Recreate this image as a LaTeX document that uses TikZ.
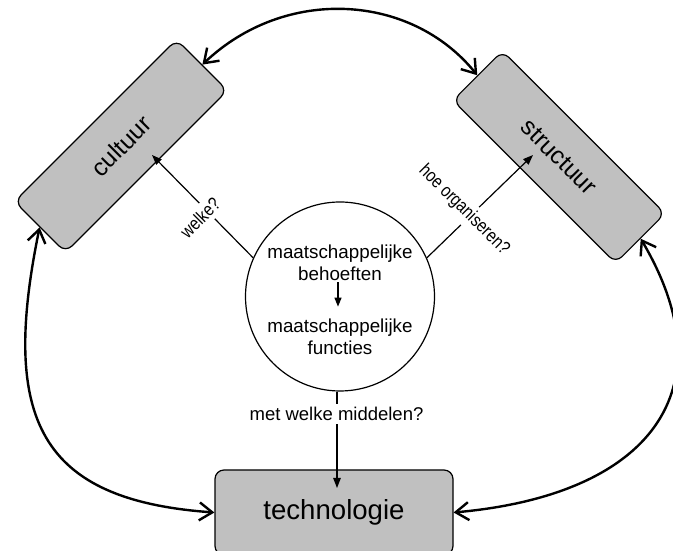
\documentclass[tikz,border=0pt]{standalone}
\usepackage{fontspec}
\setmainfont{Liberation Sans}
\newfontfamily\condfont[FakeStretch=0.83]{Liberation Sans}
\usetikzlibrary{arrows.meta,calc}
\definecolor{boxgray}{RGB}{192,192,192}
\begin{document}
\begin{tikzpicture}[x=1pt,y=1pt,
  box/.style={draw=black, line width=1.2pt, fill=boxgray, rounded corners=9pt, inner sep=0pt},
  bigarrow/.style={line width=2.4pt, {Straight Barb[length=13pt,width=18pt]}-{Straight Barb[length=13pt,width=18pt]}},
  thinarrow/.style={line width=1.2pt, -{Triangle[length=10pt,width=7.5pt]}},
  smallarrow/.style={line width=1.2pt, -{Triangle[length=9pt,width=7pt]}},
  lbl/.style={fill=white, inner sep=4pt, font=\fontsize{18.5}{22}\selectfont},
  condlbl/.style={fill=white, inner sep=4pt, font=\condfont\fontsize{18.5}{22}\selectfont},
  ctext/.style={align=center, inner sep=0pt, font=\fontsize{18.8}{22.5}\selectfont},
  bigtext/.style={font=\fontsize{24.6}{28}\selectfont}
]
\useasboundingbox (0,0) rectangle (673,551);
\clip (0,0) rectangle (673,551);

% central circle
\node[circle, draw, line width=1.2pt, minimum size=189pt, inner sep=0pt] (circ) at (340,254.5) {};
\node[ctext] (t1) at (340,288) {maatschappelijke\\behoeften};
\node[ctext] (t2) at (340,214) {maatschappelijke\\functies};
\draw[smallarrow] ([xshift=-2pt,yshift=-1pt]t1.south) -- ([xshift=-2pt,yshift=12pt]t2.north);

% boxes
\node[box, bigtext, rotate=45, minimum width=229pt, minimum height=72pt] (cultuur) at (121,405) {cultuur};
\node[box, bigtext, rotate=-45, minimum width=230pt, minimum height=70pt] (structuur) at (559,394) {structuur};
\node[box, font=\fontsize{27.6}{32}\selectfont, minimum width=238pt, minimum height=85pt] (tech) at (334,38.5) {technologie};

% connectors from the circle
\coordinate (ctip) at (152,396);
\coordinate (stip) at (533,396);
\coordinate (btip) at (337,63);
\draw[thinarrow] (circ.156) -- (ctip);
\draw[thinarrow] (circ.24) -- (stip);
\draw[thinarrow] (circ.south -| btip) -- (btip);

% labels
\node[condlbl, rotate=45] (lw) at (200,333) {welke?};
\node[condlbl, rotate=-45] (lh) at (464,341) {hoe organiseren?};
\node[lbl, inner sep=3pt] (lm) at (336.5,137) {met welke middelen?};

% big double arrows
\draw[bigarrow] (cultuur.east) .. controls (285,565) and (411,558) .. (structuur.west);
\draw[bigarrow] (cultuur.west) .. controls (0,131) and (40,51) .. (tech.west);
\draw[bigarrow] (structuur.east) .. controls (730,161) and (650,56) .. (tech.east);
\end{tikzpicture}
\end{document}
